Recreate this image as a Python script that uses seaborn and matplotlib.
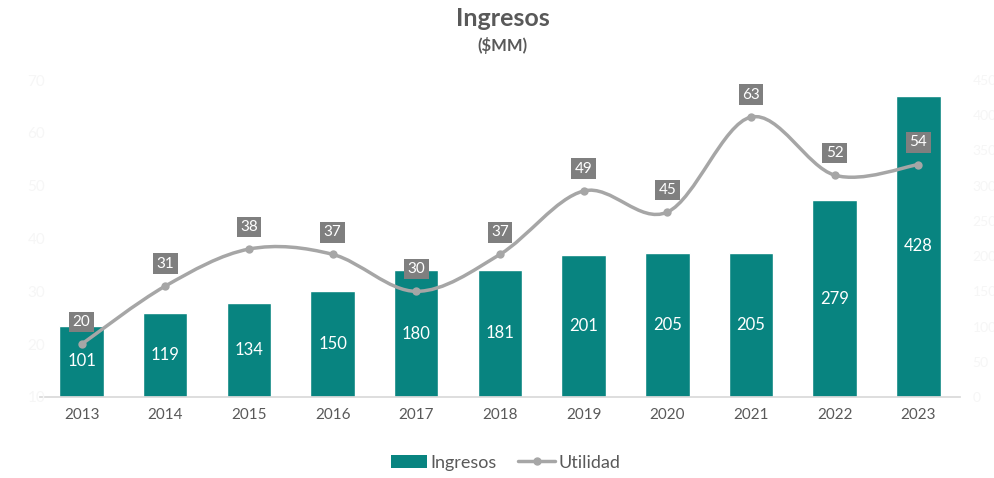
import numpy as np
import pandas as pd
import seaborn as sns
import matplotlib.pyplot as plt
from matplotlib.path import Path
from matplotlib.patches import PathPatch, Patch
from matplotlib.lines import Line2D

years = ["2013", "2014", "2015", "2016", "2017", "2018", "2019", "2020", "2021", "2022", "2023"]
ingresos = [101, 119, 134, 150, 180, 181, 201, 205, 205, 279, 428]
utilidad = [20, 31, 38, 37, 30, 37, 49, 45, 63, 52, 54]

TEAL = "#088480"
GRIS_LINEA = "#a6a6a6"
GRIS_TEXTO = "#595959"
CASI_BLANCO = "#f6f6f6"

sns.set_theme(style="white")
plt.rcParams["font.family"] = ["Lato", "DejaVu Sans"]

df = pd.DataFrame({"anio": years, "ingresos": ingresos, "utilidad": utilidad})

fig = plt.figure(figsize=(9.95, 4.78), dpi=100)
ax = fig.add_axes([0.040, 0.1695, 0.925, 0.663])

# barras de ingresos (eje derecho 0-450)
sns.barplot(data=df, x="anio", y="ingresos", color=TEAL, width=0.53,
            saturation=1, ax=ax, zorder=2)
ax.set_ylim(0, 450)
ax.set_xlim(-0.5, len(years) - 0.5)
ax.set_xlabel("")
ax.set_ylabel("")
for s in ["top", "left", "right"]:
    ax.spines[s].set_visible(False)
ax.spines["bottom"].set_color("#d9d9d9")

for cont in ax.containers:
    ax.bar_label(cont, labels=[str(v) for v in ingresos], label_type="center",
                 color="white", fontsize=12)

# utilidad en eje izquierdo (10-70)
ax2 = ax.twinx()
ax2.set_ylim(10, 70)
ax2.yaxis.tick_left()
ax2.set_yticks(range(10, 71, 10))
ax2.tick_params(axis="y", colors=CASI_BLANCO, labelsize=11, length=0, pad=-4)
for s in ax2.spines.values():
    s.set_visible(False)

# twinx cambia el lado de los ticks, se corrige aquí
ax.yaxis.tick_right()
ax.set_yticks(range(0, 451, 50))
ax.tick_params(axis="y", colors=CASI_BLANCO, labelsize=10, length=0, pad=9)
ax.tick_params(axis="x", colors=GRIS_TEXTO, labelsize=11, length=0, pad=8)

xs = np.arange(len(years))
ys = np.array(utilidad, dtype=float)

# curva suavizada tipo Excel (Bezier Catmull-Rom)
verts = [(xs[0], ys[0])]
codes = [Path.MOVETO]
n = len(xs)
for i in range(n - 1):
    p0 = np.array([xs[max(i - 1, 0)], ys[max(i - 1, 0)]])
    p1 = np.array([xs[i], ys[i]])
    p2 = np.array([xs[i + 1], ys[i + 1]])
    p3 = np.array([xs[min(i + 2, n - 1)], ys[min(i + 2, n - 1)]])
    c1 = p1 + (p2 - p0) / 6
    c2 = p2 - (p3 - p1) / 6
    verts += [tuple(c1), tuple(c2), tuple(p2)]
    codes += [Path.CURVE4] * 3
ax2.add_patch(PathPatch(Path(verts, codes), facecolor="none", edgecolor=GRIS_LINEA,
                        lw=2.5, zorder=3, capstyle="round"))

sns.lineplot(x=xs, y=ys, ax=ax2, marker="o", markersize=6, linestyle="",
             color=GRIS_LINEA, markeredgewidth=0, zorder=4)
ax2.set_ylabel("")

for x, y in zip(xs, utilidad):
    ax2.annotate(str(y), (x, y), xytext=(0, 16), textcoords="offset points",
                 ha="center", va="center", color="white", fontsize=11,
                 bbox=dict(boxstyle="square,pad=0.22", fc="#7f7f7f", ec="none"),
                 zorder=5)

fig.text(0.505, 0.962, "Ingresos", ha="center", va="center", fontsize=18,
         fontweight="bold", color=GRIS_TEXTO)
fig.text(0.505, 0.905, "($MM)", ha="center", va="center", fontsize=12,
         fontweight="bold", color=GRIS_TEXTO)

handles = [Patch(facecolor=TEAL, edgecolor="none", label="Ingresos"),
           Line2D([0], [0], color=GRIS_LINEA, lw=2.5, marker="o", markersize=5,
                  label="Utilidad")]
fig.legend(handles=handles, loc="center", bbox_to_anchor=(0.508, 0.032), ncol=2,
           frameon=False, fontsize=13, labelcolor=GRIS_TEXTO, handlelength=2.0,
           handletextpad=0.2, columnspacing=1.2)

fig.savefig("out.png", dpi=100)
